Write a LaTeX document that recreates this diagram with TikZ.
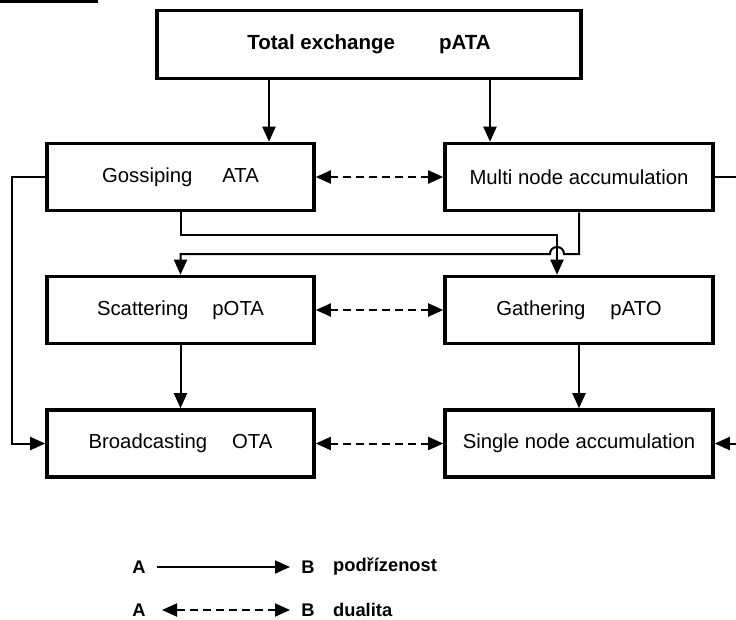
\documentclass[tikz,border=0pt]{standalone}
\usepackage{fontspec}
\setmainfont{Liberation Sans}
\usetikzlibrary{arrows.meta}
\begin{document}
\begin{tikzpicture}[x=1pt,y=-1pt,
  box/.style={draw,line width=3.6pt,minimum height=67pt,inner sep=0pt,
    font=\fontsize{20.3}{24}\selectfont},
  conn/.style={line width=2pt,-{Triangle[length=15pt,width=13pt]}},
  dual/.style={line width=2pt,dash pattern=on 8pt off 5pt,
    {Triangle[length=15pt,width=13pt]}-{Triangle[length=15pt,width=13pt]}},
  legtext/.style={font=\bfseries\fontsize{18.3}{22}\selectfont,inner sep=0pt}]
\useasboundingbox (0,0) rectangle (736,619);
\clip (0,0) rectangle (736,619);

% partial rule at the upper left
\draw[line width=2.6pt] (0,1.3) -- (98,1.3);

% boxes
\node[box,minimum width=424pt,minimum height=68pt,font=\bfseries\fontsize{20.5}{24}\selectfont]
  (tot) at (369,44.5) {Total exchange\hspace{44pt}pATA};
\node[box,minimum width=267pt] (gos) at (180.5,177) {Gossiping\hspace{30pt}ATA};
\node[box,minimum width=268pt] (mul) at (579,177) {Multi node accumulation};
\node[box,minimum width=267pt] (sca) at (180.5,310) {Scattering\hspace{24pt}pOTA};
\node[box,minimum width=268pt] (gat) at (579,310) {Gathering\hspace{25pt}pATO};
\node[box,minimum width=267pt] (bro) at (180.5,443.5) {Broadcasting\hspace{25pt}OTA};
\node[box,minimum width=268pt] (sin) at (579,443.5) {Single node accumulation};

% column positions of the off-centre connectors
\coordinate (xa) at (269,0);
\coordinate (xb) at (490,0);
\coordinate (xj) at (557,0);
% ends of the hop where the two routes cross
\coordinate (hopr) at (564,254);
\coordinate (hopl) at (550,254);

% subordination
\draw[conn] (tot.south -| xa) -- (gos.north -| xa);
\draw[conn] (tot.south -| xb) -- (mul.north -| xb);
\draw[conn] (sca.south) -- (bro.north);
\draw[conn] (gat.south) -- (sin.north);
\draw[conn] (gos.west) -- ++(-33,0) |- (bro.west);
\draw[conn] (mul.east) -- ++(60,0) |- (sin.east);
\draw[conn] (gos.south) -- ++(0,23) -| (gat.north -| xj);
\draw[conn] (mul.south) |- (hopr)
  .. controls (564,244.7) and (550,244.7) .. (hopl) -| (sca.north);

% duality
\draw[dual] (gos.east) -- (mul.west);
\draw[dual] (sca.east) -- (gat.west);
\draw[dual] (bro.east) -- (sin.west);

% legend
\node[legtext] (la1) at (139,567) {A};
\node[legtext] (lb1) at (308,567) {B};
\node[legtext,anchor=west] (lt1) at (333,567) {podřízenost};
\coordinate (s1) at (157,567);
\coordinate (e1) at (290,567);
\draw[conn] (s1) -- (e1);
\node[legtext] (la2) at (139,610) {A};
\node[legtext] (lb2) at (308,610) {B};
\node[legtext,anchor=west] (lt2) at (333,610) {dualita};
\coordinate (s2) at (162,610);
\coordinate (e2) at (290,610);
\draw[dual] (s2) -- (e2);
\end{tikzpicture}
\end{document}
